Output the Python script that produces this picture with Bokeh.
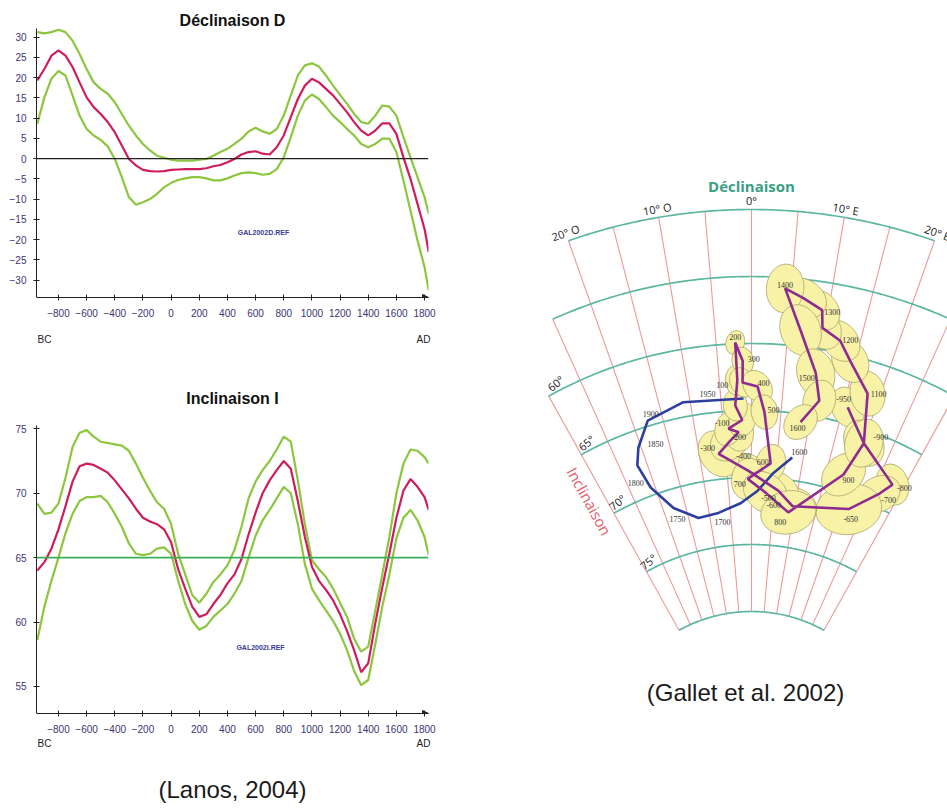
import numpy as np
from bokeh.plotting import figure
from bokeh.layouts import row, column
from bokeh.models import Range1d, FixedTicker, Label, Span, Arrow, NormalHead, LinearAxis
from bokeh.embed import file_html
from bokeh.resources import INLINE
from bokeh.core.properties import value

# ---------------- data: Lanos (2004) curves ----------------
years = [-950, -900, -850, -800, -750, -700, -650, -600, -550, -500,
         -450, -400, -350, -300, -250, -200, -150, -100, -50, 0,
         50, 100, 150, 200, 250, 300, 350, 400, 450, 500,
         550, 600, 650, 700, 750, 800, 850, 900, 950, 1000,
         1050, 1100, 1150, 1200, 1250, 1300, 1350, 1400, 1450, 1500,
         1550, 1600, 1650, 1700, 1750, 1800, 1830]

decl_mean = [19.3, 22.1, 25.4, 26.7, 25.4, 22.6, 18.8, 15.1, 12.7, 11.0,
             9.0, 6.5, 3.2, -0.1, -1.7, -2.8, -3.1, -3.2, -3.1, -2.8,
             -2.7, -2.6, -2.6, -2.6, -2.4, -1.9, -1.6, -0.9, -0.1, 1.0,
             1.6, 1.8, 1.2, 1.0, 2.8, 5.7, 10.2, 14.7, 18.0, 19.7,
             18.8, 17.2, 15.6, 13.5, 11.4, 9.0, 6.9, 5.7, 6.9, 8.7,
             8.7, 6.1, 0.3, -5.0, -11.2, -17.4, -23.1]
decl_upper = [31.2, 30.9, 31.2, 31.8, 31.2, 29.1, 25.8, 22.1, 18.8, 17.2,
              16.0, 13.9, 11.0, 8.1, 5.7, 3.6, 2.0, 0.7, 0.2, -0.3,
              -0.5, -0.5, -0.5, -0.3, -0.1, 0.7, 1.6, 2.4, 3.6, 4.9,
              6.7, 7.6, 6.7, 6.1, 7.3, 10.6, 15.6, 20.5, 23.0, 23.5,
              22.7, 20.5, 18.0, 15.7, 13.5, 11.0, 9.0, 8.6, 10.6, 13.1,
              12.8, 10.6, 5.3, 0.3, -4.6, -9.5, -13.7]
decl_lower = [8.6, 15.1, 19.7, 21.6, 20.5, 15.6, 10.6, 7.3, 5.7, 4.6,
              3.0, -0.1, -4.6, -9.5, -11.4, -10.8, -10.0, -8.7, -7.1, -6.0,
              -5.3, -4.9, -4.6, -4.6, -4.9, -5.4, -5.4, -4.9, -4.2, -3.6,
              -3.4, -3.6, -4.0, -3.8, -2.6, 0.3, 5.3, 10.6, 14.3, 15.8,
              14.7, 12.7, 10.6, 9.0, 7.3, 5.7, 3.6, 2.8, 3.6, 4.9,
              4.9, 1.6, -5.4, -12.8, -20.2, -26.8, -32.6]

incl_mean = [64.0, 64.65, 65.7, 67.2, 69.0, 70.9, 72.1, 72.3, 72.2, 71.9,
             71.6, 71.0, 70.3, 69.6, 68.8, 68.1, 67.8, 67.6, 67.2, 66.2,
             64.1, 62.6, 61.2, 60.4, 60.6, 61.4, 62.1, 63.0, 63.7, 64.9,
             66.8, 68.5, 70.0, 71.0, 71.8, 72.5, 71.9, 69.4, 66.6, 64.3,
             63.2, 62.5, 61.7, 60.6, 59.3, 57.8, 56.1, 56.8, 59.9, 62.7,
             65.3, 68.1, 70.2, 71.1, 70.5, 69.7, 68.7]
incl_upper = [69.2, 68.4, 68.5, 69.2, 71.2, 73.6, 74.7, 74.9, 74.4, 74.0,
              73.9, 73.8, 73.7, 73.3, 72.3, 71.2, 70.2, 69.3, 68.8, 67.6,
              65.3, 63.7, 62.1, 61.5, 62.2, 63.1, 63.7, 64.4, 65.6, 67.4,
              69.6, 70.9, 71.8, 72.5, 73.4, 74.4, 74.0, 71.0, 67.6, 64.8,
              64.1, 63.5, 62.6, 61.5, 60.4, 58.7, 57.7, 58.1, 60.9, 63.7,
              66.6, 70.0, 72.3, 73.4, 73.3, 72.8, 72.3]
incl_lower = [58.6, 61.2, 63.2, 65.0, 66.9, 68.4, 69.4, 69.7, 69.7, 69.8,
              69.3, 68.4, 67.4, 66.1, 65.3, 65.2, 65.3, 65.7, 65.8, 65.3,
              63.2, 61.4, 60.1, 59.4, 59.7, 60.4, 60.9, 61.4, 62.2, 63.2,
              65.0, 66.7, 67.9, 68.7, 69.6, 70.5, 70.0, 67.6, 64.5, 62.6,
              61.7, 60.9, 60.1, 59.1, 57.8, 56.2, 55.1, 55.5, 58.3, 61.2,
              63.7, 66.5, 68.1, 68.7, 67.9, 66.6, 65.2]

year_ticks = [-800, -600, -400, -200, 0, 200, 400, 600, 800, 1000, 1200, 1400, 1600, 1800]
decl_ticks = [-30, -25, -20, -15, -10, -5, 0, 5, 10, 15, 20, 25, 30]
incl_ticks = [55, 60, 65, 70, 75]
decl_ref = 0
incl_ref = 65
era_labels = ["BC", "AD"]

# ---------------- data: Gallet et al. (2002) directions ----------------
purple_years = [-950, -900, -800, -700, -650, -600, -500, -400, -300, -250,
                -200, -150, -100, 0, 100, 200, 300, 350, 400, 500,
                600, 700, 750, 800, 900, 1000, 1100, 1150, 1200, 1250,
                1300, 1350, 1400, 1450, 1500, 1550, 1600]
purple_D = [15.7, 20.1, 27.9, 26.3, 21.8, 9.5, 5.9, -0.6, -6.3, -3.9,
            -2.3, -4.1, -1.6, -2.7, -2.2, -2.3, -1.3, -1.4, 0.95, 2.2,
            3.8, -0.8, 3.1, 8.7, 18.4, 20.1, 18.1, 14.3, 12.3, 9.6,
            9.2, 6.6, 4.2, 6.7, 9.7, 11.0, 8.5]
purple_I = [63.8, 66.0, 68.0, 69.1, 71.0, 71.9, 70.9, 69.5, 68.1, 67.2,
            66.6, 66.3, 65.7, 64.6, 62.7, 59.9, 61.3, 62.9, 63.2, 65.1,
            68.9, 70.1, 71.1, 72.4, 68.7, 66.0, 62.4, 60.4, 59.1, 58.4,
            57.1, 56.4, 55.8, 58.8, 61.8, 63.8, 65.6]
purple_a95 = [1.2, 1.4, 1.2, 1.3, 1.9, 1.4, 1.3, 1.2, 1.4, 1.3,
              1.1, 1.0, 1.0, 0.9, 0.9, 0.7, 0.8, 0.9, 1.0, 1.0,
              1.1, 1.2, 1.4, 1.6, 1.4, 1.4, 1.3, 1.3, 1.3, 1.3,
              1.2, 1.4, 1.4, 1.5, 1.4, 1.2, 1.1]

blue_years = [1600, 1625, 1650, 1675, 1700, 1725, 1750, 1800, 1825, 1850, 1900, 1925, 1950]
blue_D = [7.9, 4.5, 1.3, -2.5, -8.1, -12.7, -17.7, -20.9, -21.8, -20.5, -17.5, -11.1, -1.3]
blue_I = [68.3, 69.6, 71.0, 71.9, 72.5, 72.6, 71.4, 69.4, 67.5, 66.3, 64.6, 63.9, 64.1]

purple_labels = [-950, -900, -800, -700, -650, -600, -500, -400, -300, -200, -100,
                 100, 200, 300, 400, 500, 600, 700, 800, 900, 1100, 1200, 1300,
                 1400, 1500, 1600]
blue_labels = [1600, 1700, 1750, 1800, 1850, 1900, 1950]

fan_incl = [50, 55, 60, 65, 70, 75, 80]
fan_decl = [-30, -25, -20, -15, -10, -5, 0, 5, 10, 15, 20, 25, 30]
decl_label_vals = [-20, -10, 0, 10, 20]
decl_label_text = ["20° O", "10° O", "0°", "10° E", "20° E"]
incl_label_vals = [60, 65, 70, 75]
incl_label_text = ["60°", "65°", "70°", "75°"]

# ---------------- styles / positions ----------------
RED = "#cf1d5c"
GREEN = "#8cc63f"
TICK_COL = "#3b3470"
FONT = "Liberation Sans"
ERA_POS = [-899, 1792]

purple_label_off = {-950: (-4, -8), -900: (17, -6), -800: (12, 3), -700: (10, 6), -650: (2, 10),
                    -600: (-19, -1), -500: (-10, 7), -400: (-5, -15), -300: (-11, -6),
                    -200: (0, 5), -100: (-20, 3), 100: (-15, 5), 200: (0, -5), 300: (11, -2),
                    400: (6, -3), 500: (9, -2), 600: (-8, -1), 700: (-8, 5), 800: (-8, 10),
                    900: (5, 5), 1100: (11, 0), 1200: (10, -1), 1300: (10, 2), 1400: (0, -3),
                    1500: (-9, 5), 1600: (-3, 6)}
blue_label_off = {1600: (7, -5), 1700: (5, 9), 1750: (4, 11), 1800: (-15, -4),
                  1850: (17, -4), 1900: (3, -7), 1950: (-36, -5)}


def left_chart(height, yr, yticks, border_top, border_bottom, title, title_standoff,
               era_standoff, caption=None):
    p = figure(width=440, height=height, x_range=Range1d(-956, 1828), y_range=Range1d(*yr),
               output_backend="svg", toolbar_location=None,
               min_border_left=36, min_border_right=12,
               min_border_top=border_top, min_border_bottom=border_bottom)
    p.outline_line_color = None
    p.grid.visible = False
    p.title.text = title
    p.title.align = "center"
    p.title.text_font = FONT
    p.title.text_font_size = "16px"
    p.title.text_font_style = "bold"
    p.title.text_color = "#111111"
    p.title.standoff = title_standoff
    p.xaxis.ticker = FixedTicker(ticks=year_ticks)
    p.yaxis.ticker = FixedTicker(ticks=yticks)
    for ax in (p.xaxis, p.yaxis):
        ax.minor_tick_line_color = None
        ax.major_tick_in = 3
        ax.major_tick_out = 3
        ax.axis_line_color = "#222222"
        ax.major_tick_line_color = "#222222"
        ax.major_label_text_font = FONT
        ax.major_label_text_font_size = "10px"
        ax.major_label_text_color = TICK_COL
    p.xaxis.major_label_standoff = 8
    p.yaxis.major_label_standoff = 7
    # BC / AD row below the year axis
    era = LinearAxis(ticker=FixedTicker(ticks=ERA_POS),
                     major_label_overrides={ERA_POS[0]: era_labels[0], ERA_POS[1]: era_labels[1]},
                     axis_line_color=None, major_tick_line_color=None, minor_tick_line_color=None,
                     major_tick_out=0, major_tick_in=0,
                     major_label_standoff=era_standoff, major_label_text_font=FONT,
                     major_label_text_font_size="10px", major_label_text_color="#222222")
    if caption:
        era.axis_label = caption
        era.axis_label_text_font = FONT
        era.axis_label_text_font_size = "24px"
        era.axis_label_text_font_style = "normal"
        era.axis_label_text_color = "#1a1a1a"
        era.axis_label_standoff = 24
    p.add_layout(era, "below")
    p.add_layout(Arrow(end=NormalHead(size=6, fill_color="#222222", line_color="#222222"),
                       x_start=1790, y_start=yr[0], x_end=1828, y_end=yr[0],
                       line_color="#222222", line_width=1))
    return p


# ---- Declination chart ----
p1 = left_chart(350, (-34.3, 32.1), decl_ticks, 28, 53, "Déclinaison D", 0, 14)
p1.add_layout(Span(location=decl_ref, dimension="width", line_color="#222222", line_width=1.2))
p1.line(years, decl_upper, line_color=GREEN, line_width=2.2)
p1.line(years, decl_lower, line_color=GREEN, line_width=2.2)
p1.line(years, decl_mean, line_color=RED, line_width=2.2)
p1.add_layout(Label(x=656, y=-18.3, text="GAL2002D.REF", text_align="center", text_baseline="middle",
                    text_font=FONT, text_font_size="7px", text_font_style="bold", text_color="#3a3a9a"))

# ---- Inclination chart ----
p2 = left_chart(457, (52.9, 75.26), incl_ticks, 75, 94, "Inclinaison I", 38, 2, "(Lanos, 2004)")
p2.add_layout(Span(location=incl_ref, dimension="width", line_color="#3cae5a", line_width=1.6))
p2.line(years, incl_upper, line_color=GREEN, line_width=2.2)
p2.line(years, incl_lower, line_color=GREEN, line_width=2.2)
p2.line(years, incl_mean, line_color=RED, line_width=2.2)
p2.add_layout(Label(x=635, y=58.0, text="GAL2002I.REF", text_align="center", text_baseline="middle",
                    text_font=FONT, text_font_size="7px", text_font_style="bold", text_color="#3a3a9a"))

# ---- Fan diagram (Gallet et al. 2002) ----
K = 0.97
R50 = 551.0
PXD = 13.4


def proj(D, I):
    D = np.asarray(D, dtype=float)
    I = np.asarray(I, dtype=float)
    r = R50 - PXD * (I - 50.0)
    a = np.radians(K * D)
    return r * np.sin(a), r * np.cos(a)


p3 = figure(width=507, height=800, x_range=Range1d(-311, 196), y_range=Range1d(-40, 760),
            output_backend="svg", toolbar_location=None,
            x_axis_location=None, y_axis_location=None, min_border=0)
p3.outline_line_color = None
p3.grid.visible = False

# radial declination lines
rx, ry = [], []
for d in fan_decl:
    i0 = 50 if abs(d) <= 20 else (55 if abs(d) <= 25 else 60)
    x, y = proj([d, d], [i0, fan_incl[-1]])
    rx.append(list(x)); ry.append(list(y))
p3.multi_line(rx, ry, line_color="#ec9a9a", line_width=1.1)

# inclination arcs
ax_, ay_ = [], []
for inc in fan_incl:
    dmax = 20 if inc == 50 else (25 if inc == 55 else 30)
    dd = np.linspace(-dmax, dmax, 120)
    x, y = proj(dd, np.full_like(dd, inc))
    ax_.append(list(x)); ay_.append(list(y))
p3.multi_line(ax_, ay_, line_color="#5db7a0", line_width=1.7)

# confidence ellipses
px, py = proj(purple_D, purple_I)
n = len(px)
ang = []
for i in range(n):
    a, b = max(i - 1, 0), min(i + 1, n - 1)
    ang.append(np.arctan2(py[b] - py[a], px[b] - px[a]))
a95 = np.array(purple_a95)
p3.ellipse(px, py, width=2 * a95 * PXD * 1.3, height=2 * a95 * PXD, angle=ang,
           fill_color="#f8f2a6", line_color="#a9a570", line_width=0.8)

# paths
bx, by = proj(blue_D, blue_I)
p3.line(bx, by, line_color="#2d3e9e", line_width=2.6)
p3.line(px, py, line_color="#8e2a91", line_width=2.6)


def add_year_labels(yrs, xs, ys, labels, offs):
    tx, ty, tt, ox, oy = [], [], [], [], []
    for yv in labels:
        k = yrs.index(yv)
        tx.append(xs[k]); ty.append(ys[k]); tt.append(str(yv))
        ox.append(offs[yv][0]); oy.append(offs[yv][1])
    p3.text(tx, ty, text=tt, x_offset=ox, y_offset=oy, text_align="center", text_baseline="middle",
            text_font=value("Liberation Serif"), text_font_size="8px", text_color="#333333")


add_year_labels(purple_years, px, py, purple_labels, purple_label_off)
add_year_labels(blue_years, bx, by, blue_labels, blue_label_off)

# declination labels
lx, ly = proj(decl_label_vals, np.full(len(decl_label_vals), 49.35))
p3.text(lx, ly, text=decl_label_text, angle=[-K * d for d in decl_label_vals], angle_units="deg",
        text_align="center", text_baseline="middle", text_font=value("Open Sans"),
        text_font_size="11px", text_color="#222222")
p3.text([0], [575], text=["Déclinaison"], text_align="center", text_baseline="middle",
        text_font=value("Open Sans"), text_font_size="15px", text_font_style="bold",
        text_color="#3a9f82")

# inclination labels
ix, iy = proj(np.full(len(incl_label_vals), -28.3), np.array(incl_label_vals) - 0.6)
p3.text(ix, iy, text=incl_label_text, angle=40, angle_units="deg", text_align="center",
        text_baseline="middle", text_font=value("Open Sans"), text_font_size="11px",
        text_color="#222222")
nx, ny = proj([-33], [68.3])
p3.text(nx, ny, text=["Inclinaison"], angle=-61, angle_units="deg", text_align="center",
        text_baseline="middle", text_font=value("Open Sans"), text_font_size="15px",
        text_color="#e0606a")

p3.add_layout(Label(x=-6, y=68, text="(Gallet et al. 2002)", text_align="center", text_baseline="middle",
                    text_font=FONT, text_font_size="24px", text_color="#1a1a1a"))

layout = row(column(p1, p2), p3)
open("out.html", "w").write(file_html(layout, INLINE))
